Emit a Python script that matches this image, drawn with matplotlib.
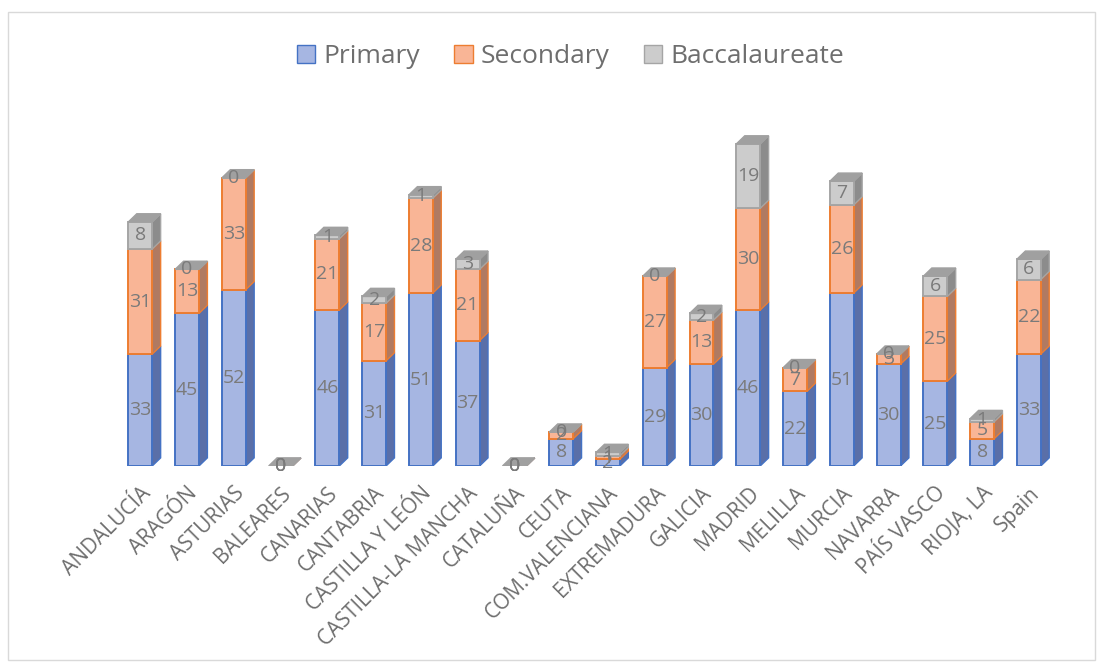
import matplotlib.pyplot as plt
from matplotlib.patches import Polygon, Rectangle, Patch

regions = ['ANDALUCÍA', 'ARAGÓN', 'ASTURIAS', 'BALEARES', 'CANARIAS', 'CANTABRIA',
           'CASTILLA Y LEÓN', 'CASTILLA-LA MANCHA', 'CATALUÑA', 'CEUTA',
           'COM.VALENCIANA', 'EXTREMADURA', 'GALICIA', 'MADRID', 'MELILLA',
           'MURCIA', 'NAVARRA', 'PAÍS VASCO', 'RIOJA, LA', 'Spain']
primary = [33, 45, 52, 0, 46, 31, 51, 37, 0, 8, 2, 29, 30, 46, 22, 51, 30, 25, 8, 33]
secondary = [31, 13, 33, 0, 21, 17, 28, 21, 0, 2, 1, 27, 13, 30, 7, 26, 3, 25, 5, 22]
baccalaureate = [8, 0, 0, 0, 1, 2, 1, 3, 0, 0, 1, 0, 2, 19, 0, 7, 0, 6, 1, 6]

series = [('Primary', primary, '#a6b6e2', '#4472c4', '#5a6fa8'),
          ('Secondary', secondary, '#f9b596', '#ed7d31', '#b07a62'),
          ('Baccalaureate', baccalaureate, '#cccccc', '#a5a5a5', '#8c8c8c')]

plt.rcParams['font.family'] = ['Open Sans', 'DejaVu Sans']
fig = plt.figure(figsize=(11.03, 6.70), dpi=100)
ax = fig.add_axes([0.106, 0.3045, 0.848, 0.506])

w = 0.51
dx = 0.18
dy = 2.4
n = len(regions)
bottoms = [0] * n
for name, vals, face, edge, side in series:
    for i, v in enumerate(vals):
        b = bottoms[i]
        x0 = i - w / 2
        x1 = i + w / 2
        ax.add_patch(Rectangle((x0, b), w, v, facecolor=face, edgecolor=edge, lw=1.4, zorder=3))
        ax.add_patch(Polygon([(x1, b), (x1 + dx, b + dy), (x1 + dx, b + v + dy), (x1, b + v)],
                             closed=True, facecolor=side, edgecolor=edge, lw=1.0, zorder=2))
        ax.text(i, b + v / 2, str(v), ha='center', va='center', fontsize=14,
                color='#7a7a7a', zorder=5)
        bottoms[i] = b + v

# top faces
for i in range(n):
    t = bottoms[i]
    x0 = i - w / 2
    x1 = i + w / 2
    ax.add_patch(Polygon([(x0, t), (x0 + dx, t + dy), (x1 + dx, t + dy), (x1, t)],
                         closed=True, facecolor='#a0a0a0', edgecolor='#a0a0a0', lw=1.0, zorder=4))

ax.set_xlim(-0.5, n - 0.5)
ax.set_ylim(0, 100)
for s in ax.spines.values():
    s.set_visible(False)
ax.set_yticks([])
ax.set_xticks(range(n))
ax.set_xticklabels(regions, rotation=45, ha='right', rotation_mode='anchor',
                   fontsize=15, color='#6e6e6e')
ax.tick_params(axis='x', length=0, pad=12)

handles = [Patch(facecolor=face, edgecolor=edge, label=name) for name, _, face, edge, _ in series]
fig.legend(handles=handles, loc='center', bbox_to_anchor=(0.517, 0.915), ncol=3, frameon=False,
           fontsize=19, labelcolor='#6e6e6e', handlelength=0.7, handleheight=0.7,
           handletextpad=0.3, columnspacing=1.3)

fig.patches.append(Rectangle((0.007, 0.015), 0.986, 0.967, transform=fig.transFigure,
                             fill=False, edgecolor='#d9d9d9', lw=1))

fig.savefig('out.png', dpi=100)
